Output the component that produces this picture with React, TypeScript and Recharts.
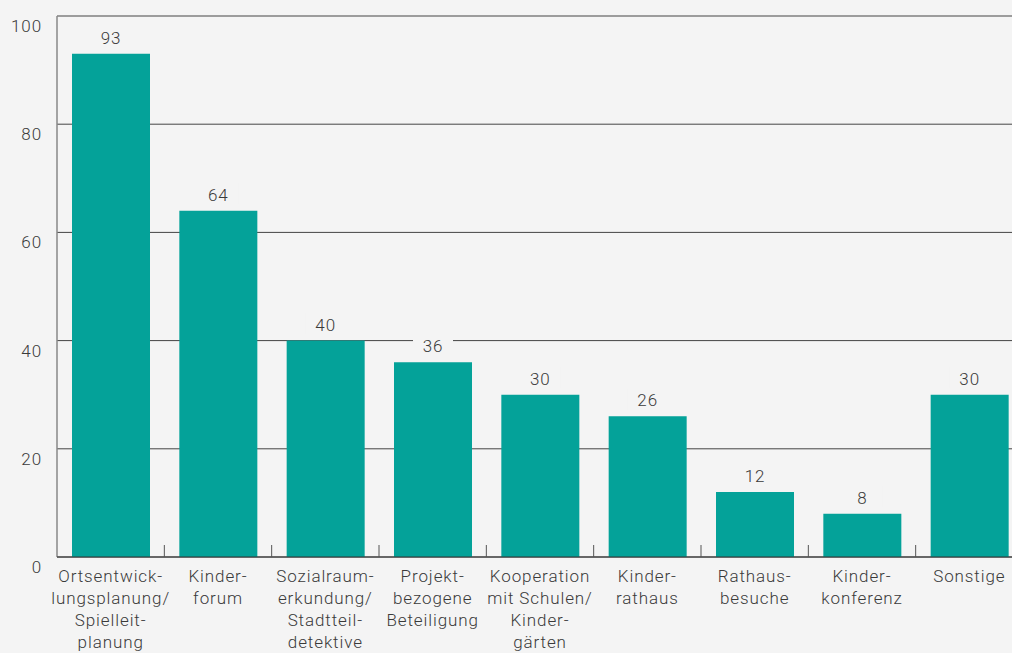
import React from 'react';
import { BarChart, Bar, XAxis, YAxis, CartesianGrid, LabelList } from 'recharts';

const categories = [
  'Ortsentwick-\nlungsplanung/\nSpielleit-\nplanung',
  'Kinder-\nforum',
  'Sozialraum-\nerkundung/\nStadtteil-\ndetektive',
  'Projekt-\nbezogene\nBeteiligung',
  'Kooperation\nmit Schulen/\nKinder-\ngärten',
  'Kinder-\nrathaus',
  'Rathaus-\nbesuche',
  'Kinder-\nkonferenz',
  'Sonstige',
];
const values = [93, 64, 40, 36, 30, 26, 12, 8, 30];
const yTicks = [0, 20, 40, 60, 80, 100];

const BG = '#f4f4f4';
const TEAL = '#04a299';
const TEXT = '#3a3a3a';
const FONT = 'Roboto, "Open Sans", sans-serif';

const data = categories.map((name, i) => ({ name, value: values[i] }));

const textStyle = {
  fill: TEXT,
  fontSize: 17,
  letterSpacing: 0.9,
  fontFamily: FONT,
  fontWeight: 300,
};

// label lines plus a small upward tick on the left band edge
const CategoryTick = (props: any) => {
  const { x, y, payload, index } = props;
  const lines = String(payload.value).split('\n');
  const edge = x - (payload.offset ?? 0);
  return (
    <g>
      {index > 0 && <line x1={edge} x2={edge} y1={y} y2={y - 12} stroke="#555" />}
      {lines.map((line, i) => (
        <text key={i} x={x} y={y + 25 + i * 22} textAnchor="middle" {...textStyle}>
          {line}
        </text>
      ))}
    </g>
  );
};

const ValueTick = (props: any) => {
  const { y, payload } = props;
  return (
    <text x={42} y={y + 16} textAnchor="end" {...textStyle}>
      {payload.value}
    </text>
  );
};

const ValueLabel = (props: any) => {
  const { x, y, width, value } = props;
  const cx = x + width / 2;
  return (
    <g>
      <rect x={cx - 20} y={y - 28} width={40} height={22} fill={BG} />
      <text x={cx} y={y - 10} textAnchor="middle" {...textStyle}>
        {value}
      </text>
    </g>
  );
};

export default function App() {
  return (
    <div
      style={{
        position: 'absolute',
        left: 0,
        top: 0,
        width: 1012,
        height: 653,
        overflow: 'hidden',
        background: BG,
      }}
    >
      <BarChart
        width={1023}
        height={653}
        data={data}
        margin={{ top: 16, right: 0, bottom: 0, left: 0 }}
      >
        <CartesianGrid vertical={false} stroke="#444" />
        <YAxis
          width={57}
          domain={[0, 100]}
          ticks={yTicks}
          interval={0}
          tickLine={false}
          axisLine={{ stroke: '#888', strokeWidth: 1.5 }}
          tick={<ValueTick />}
        />
        <XAxis
          dataKey="name"
          height={96}
          interval={0}
          tickLine={false}
          tickSize={0}
          tickMargin={0}
          axisLine={{ stroke: '#333' }}
          tick={<CategoryTick />}
        />
        <Bar dataKey="value" fill={TEAL} barSize={78} isAnimationActive={false}>
          <LabelList dataKey="value" content={<ValueLabel />} />
        </Bar>
      </BarChart>
    </div>
  );
}
